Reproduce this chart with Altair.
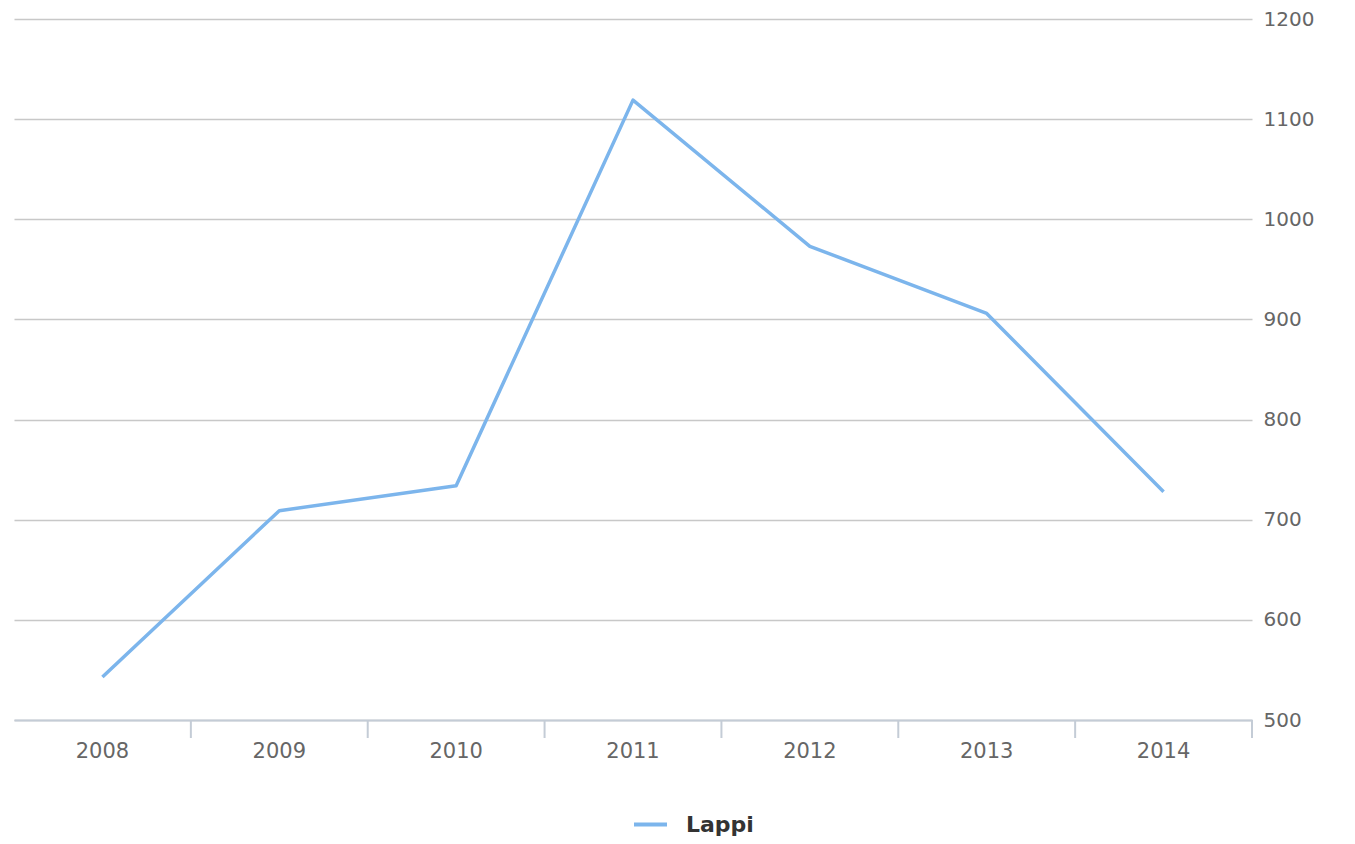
import altair as alt
import pandas as pd

years = ["2008", "2009", "2010", "2011", "2012", "2013", "2014"]
values = [543, 709, 734, 1119, 973, 906, 728]
series = "Lappi"
y_ticks = [500, 600, 700, 800, 900, 1000, 1100, 1200]

df = pd.DataFrame({"year": years, "value": values, "series": [series] * len(years)})

W, H = 1238, 701
LINE = "#7cb5ec"
GRID = "#c8c8c8"
AXIS = "#c4ccd6"

xscale = alt.Scale(type="band", domain=years, paddingInner=0, paddingOuter=0)

line = alt.Chart(df).mark_line(strokeWidth=3.5, strokeJoin="round").encode(
    x=alt.X("year:O", scale=xscale, title=None,
            axis=alt.Axis(ticks=False, labelAngle=0, labelPadding=20,
                          labelFont="DejaVu Sans", labelFontSize=21,
                          labelColor="#666666", domainColor=AXIS,
                          domainWidth=2, grid=False)),
    y=alt.Y("value:Q", scale=alt.Scale(domain=[500, 1200], nice=False, zero=False),
            title=None,
            axis=alt.Axis(orient="right", values=y_ticks, ticks=False, domain=False,
                          format="d",
                          labelPadding=11, labelAlign="left",
                          labelFont="DejaVu Sans", labelFontSize=20,
                          labelColor="#666666", gridColor=GRID, gridWidth=1.5)),
    color=alt.Color("series:N", scale=alt.Scale(domain=[series], range=[LINE]),
                    title=None,
                    legend=alt.Legend(orient="none", legendX=618, legendY=787,
                                      symbolType="stroke", symbolSize=1089,
                                      symbolStrokeWidth=4, labelOffset=17,
                                      labelFont="DejaVu Sans", labelFontSize=22,
                                      labelFontWeight="bold", labelColor="#333333")),
)

ticks = alt.Chart(df).mark_rule(color=AXIS, strokeWidth=2).encode(
    x=alt.X("year:O", scale=xscale, bandPosition=1, axis=None),
    y=alt.value(H),
    y2=alt.value(H + 18),
)

chart = alt.layer(line, ticks).resolve_axis(x="independent").properties(
    width=W, height=H,
    autosize=alt.AutoSizeParams(type="none"),
    padding={"left": 6, "top": 11, "right": 90, "bottom": 116},
).configure(background="white").configure_view(stroke=None)

chart.save("out.html", embed_options={"renderer": "svg", "actions": False})
